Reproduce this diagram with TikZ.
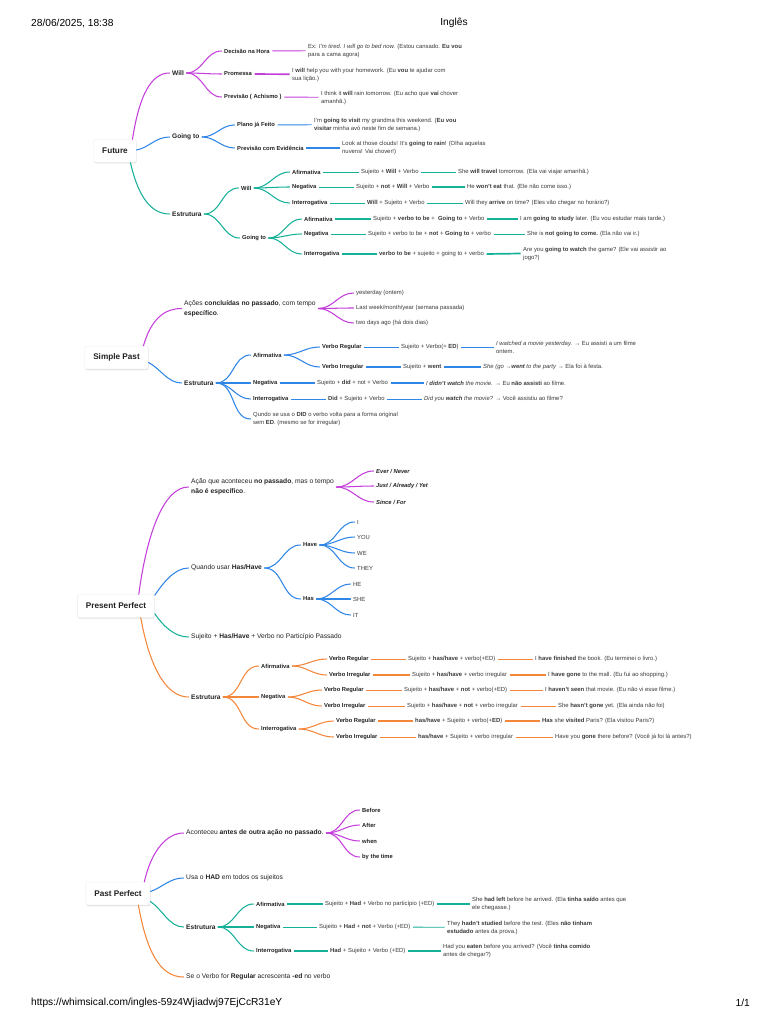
\documentclass[tikz,border=0pt]{standalone}
\usepackage{fontspec}
\setmainfont{Liberation Sans}
\usetikzlibrary{shadows}
\definecolor{cP}{HTML}{C43EDB}
\definecolor{cB}{HTML}{2F86E6}
\definecolor{cT}{HTML}{15B098}
\definecolor{cO}{HTML}{F4863A}
\definecolor{tx}{HTML}{222222}
\definecolor{tl}{HTML}{3A3A3A}
\tikzset{
 root/.style={draw=black!7, fill=white, rounded corners=1.5pt, font=\fontsize{8.2}{10}\selectfont\bfseries, text=tx, minimum height=23pt, inner xsep=8.5pt, drop shadow={shadow xshift=0.3pt, shadow yshift=-1pt, opacity=0.12, fill=black}},
 lv1/.style={anchor=west, inner xsep=2.5pt, inner ysep=1pt, xshift=-2.5pt, font=\fontsize{6.7}{9.5}\selectfont, text=tx, align=left},
 lv1b/.style={lv1, font=\fontsize{6.6}{9.5}\selectfont\bfseries},
 lb/.style={anchor=west, inner xsep=2.5pt, inner ysep=1pt, xshift=-2.5pt, font=\fontsize{5.8}{8}\selectfont\bfseries, text=tx},
 lbi/.style={lb, font=\fontsize{5.8}{8}\selectfont\bfseries\itshape},
 lf/.style={anchor=west, inner xsep=2.5pt, inner ysep=1pt, xshift=-2.5pt, font=\fontsize{5.9}{8}\selectfont, text=tl, align=left},
 hdr/.style={font=\fontsize{10.2}{12}\selectfont, text=black, inner sep=0pt},
 br/.style={line width=1.05pt, line cap=round},
 cn/.style={line width=0.9pt},
 ck/.style={line width=1.7pt},
}
\begin{document}
\begin{tikzpicture}[x=1pt,y=-1pt]
\useasboundingbox (0,0) rectangle (768,1024);
\fill[white] (0,0) rectangle (768,1024);

% header / footer
\node[hdr, anchor=west] (hdate) at (31,23) {28/06/2025, 18:38};
\node[hdr] (htitle) at (454,23) {Inglês};
\node[hdr, anchor=west] (furl) at (31,1003) {https://whimsical.com/ingles-59z4Wjiadwj97EjCcR31eY};
\node[hdr, anchor=east] (fpage) at (750,1003) {1/1};

%================ FUTURE =================
\node[root] (fut) at (115,151) {Future};
\node[lv1b] (fwill) at (172,73) {Will};
\node[lv1b] (fgo) at (172,137) {Going to};
\node[lv1b] (fest) at (172,214) {Estrutura};

\node[lb] (fdec) at (224,51) {Decisão na Hora};
\node[lf] (fdecx) at (308,50.5) {Ex: \textit{I'm tired. I will go to bed now.} (Estou cansado. \textbf{Eu vou}\\para a cama agora)};
\node[lb] (fpro) at (224,74) {Promessa};
\node[lf] (fprox) at (292,74.5) {I \textbf{will} help you with your homework. (Eu \textbf{vou} te ajudar com\\sua lição.)};
\node[lb] (fpre) at (224,97) {Previsão ( Achismo )};
\node[lf] (fprex) at (321,97.5) {I think it \textbf{will} rain tomorrow. (Eu acho que \textbf{vai} chover\\amanhã.)};
\node[lb] (fpla) at (237,125) {Plano já Feito};
\node[lf] (fplax) at (314,124.5) {I'm \textbf{going to visit} my grandma this weekend. (\textbf{Eu vou}\\\textbf{visitar} minha avó neste fim de semana.)};
\node[lb] (fpev) at (237,148) {Previsão com Evidência};
\node[lf] (fpevx) at (342,148) {Look at those clouds! It's \textbf{going to rain}! (Olha aquelas\\nuvens! Vai chover!)};

\node[lb] (fsw) at (241,188) {Will};
\node[lb] (fsg) at (242,238) {Going to};

\node[lb] (fwa) at (292,172) {Afirmativa};
\node[lf] (fwaf) at (361,172) {Sujeito + \textbf{Will} + Verbo};
\node[lf] (fwae) at (458,172) {She \textbf{will travel} tomorrow. (Ela vai viajar amanhã.)};
\node[lb] (fwn) at (292,187) {Negativa};
\node[lf] (fwnf) at (356,187) {Sujeito + \textbf{not} + \textbf{Will} + Verbo};
\node[lf] (fwne) at (467,187) {He \textbf{won't eat} that. (Ele não come isso.)};
\node[lb] (fwi) at (292,203) {Interrogativa};
\node[lf] (fwif) at (367,203) {\textbf{Will} + Sujeito + Verbo};
\node[lf] (fwie) at (465,203) {Will they \textbf{arrive} on time? (Eles vão chegar no horário?)};

\node[lb] (fga) at (304,219) {Afirmativa};
\node[lf] (fgaf) at (373,219) {Sujeito + \textbf{verbo to be} + \ \textbf{Going to} + Verbo};
\node[lf] (fgae) at (520,219) {I am \textbf{going to study} later. (Eu vou estudar mais tarde.)};
\node[lb] (fgn) at (304,234) {Negativa};
\node[lf] (fgnf) at (368,234) {Sujeito + verbo to be + \textbf{not} + \textbf{Going to} + verbo};
\node[lf] (fgne) at (527,234) {She is \textbf{not going to come.} (Ela não vai ir.)};
\node[lb] (fgi) at (304,254) {Interrogativa};
\node[lf] (fgif) at (379,254) {\textbf{verbo to be} + sujeito + going to + verbo};
\node[lf] (fgie) at (523,253.5) {Are you \textbf{going to watch} the game? (Ele vai assistir ao\\jogo?)};

\draw[br,cP] ([xshift=-4pt]fut.north east) .. controls +(7,-45) and +(-18,0) .. (fwill.west);
\draw[br,cB] ([yshift=1pt]fut.east) .. controls +(12,-2) and +(-14,0) .. (fgo.west);
\draw[br,cT] ([xshift=-6pt]fut.south east) .. controls +(8,35) and +(-18,0) .. (fest.west);
\foreach \c in {fdec,fpro,fpre} \draw[br,cP] (fwill.east) to[out=0,in=180] (\c.west);
\foreach \c in {fpla,fpev} \draw[br,cB] (fgo.east) to[out=0,in=180] (\c.west);
\foreach \c in {fsw,fsg} \draw[br,cT] (fest.east) to[out=0,in=180] (\c.west);
\foreach \c in {fwa,fwn,fwi} \draw[br,cT] (fsw.east) to[out=0,in=180] (\c.west);
\foreach \c in {fga,fgn,fgi} \draw[br,cT] (fsg.east) to[out=0,in=180] (\c.west);
\draw[cn,cP] (fdec) -- (fdecx);
\draw[ck,cP] (fpro) -- (fprox);
\draw[cn,cP] (fpre) -- (fprex);
\draw[cn,cB] (fpla) -- (fplax);
\draw[ck,cB] (fpev) -- (fpevx);
\draw[cn,cT] (fwa) -- (fwaf);  \draw[cn,cT] (fwaf) -- (fwae);
\draw[cn,cT] (fwn) -- (fwnf);  \draw[ck,cT] (fwnf) -- (fwne);
\draw[cn,cT] (fwi) -- (fwif);  \draw[cn,cT] (fwif) -- (fwie);
\draw[ck,cT] (fga) -- (fgaf);  \draw[ck,cT] (fgaf) -- (fgae);
\draw[cn,cT] (fgn) -- (fgnf);  \draw[cn,cT] (fgnf) -- (fgne);
\draw[ck,cT] (fgi) -- (fgif);  \draw[ck,cT] (fgif.east) -- (fgie.west);

%================ SIMPLE PAST =================
\node[root] (sp) at (116.5,357.5) {Simple Past};
\node[lv1] (spa) at (184,308.5) {Ações \textbf{concluídas no passado}, com tempo\\\textbf{específico}.};
\node[lf] (spy) at (356,293) {yesterday (ontem)};
\node[lf] (spl) at (356,308) {Last week/month/year (semana passada)};
\node[lf] (spt) at (356,323) {two days ago (há dois dias)};
\node[lv1b] (spe) at (184,383) {Estrutura};
\node[lb] (spaf) at (253,355) {Afirmativa};
\node[lb] (spng) at (253,383) {Negativa};
\node[lb] (spin) at (253,399) {Interrogativa};
\node[lf] (spq) at (253,419) {Qundo se usa o \textbf{DID} o verbo volta para a forma original\\sem \textbf{ED}. (mesmo se for irregular)};
\node[lb] (spvr) at (322,347) {Verbo Regular};
\node[lf] (spvrf) at (401,347) {Sujeito + Verbo(+ \textbf{ED})};
\node[lf] (spvre) at (496,347) {\textit{I watched a movie yesterday.} → Eu assisti a um filme\\ontem.};
\node[lb] (spvi) at (322,367) {Verbo Irregular};
\node[lf] (spvif) at (403,367) {Sujeito + \textbf{went}};
\node[lf] (spvie) at (483,367) {\textit{She (go →\textbf{went} to the party} → Ela foi à festa.};
\node[lf] (spngf) at (317,383) {Sujeito + \textbf{did} + not + Verbo};
\node[lf] (spnge) at (426,383) {\textit{I \textbf{didn't watch} the movie.} → Eu \textbf{não assisti} ao filme.};
\node[lf] (spinf) at (328,399) {\textbf{Did} + Sujeito + Verbo};
\node[lf] (spine) at (424,399) {\textit{Did you \textbf{watch} the movie?} → Você assistiu ao filme?};

\draw[br,cP] ([xshift=-5pt]sp.north east) .. controls +(8,-28) and +(-16,0) .. (spa.west);
\foreach \c in {spy,spl,spt} \draw[br,cP] (spa.east) to[out=0,in=180] (\c.west);
\draw[br,cB] ([yshift=-5pt]sp.east) .. controls +(12,6) and +(-14,0) .. (spe.west);
\foreach \c in {spaf,spng,spin,spq} \draw[br,cB] (spe.east) to[out=0,in=180] (\c.west);
\foreach \c in {spvr,spvi} \draw[br,cB] (spaf.east) to[out=0,in=180] (\c.west);
\draw[cn,cB] (spvr) -- (spvrf);  \draw[cn,cB] (spvrf) -- (spvre);
\draw[ck,cB] (spvi) -- (spvif);  \draw[ck,cB] (spvif) -- (spvie);
\draw[ck,cB] (spng) -- (spngf);  \draw[ck,cB] (spngf) -- (spnge);
\draw[cn,cB] (spin) -- (spinf);  \draw[cn,cB] (spinf) -- (spine);

%================ PRESENT PERFECT =================
\node[root] (pp) at (116,606) {Present Perfect};
\node[lv1] (ppa) at (191,487) {Ação que aconteceu \textbf{no passado}, mas o tempo\\\textbf{não é específico}.};
\node[lbi] (ppev) at (376,471) {Ever / Never};
\node[lbi] (ppju) at (376,486) {Just / Already / Yet};
\node[lbi] (ppsi) at (376,502) {Since / For};
\node[lv1] (ppq) at (191,568) {Quando usar \textbf{Has/Have}};
\node[lb] (pphv) at (303,545) {Have};
\node[lb] (pphs) at (303,599) {Has};
\node[lf] (ppi) at (357,522) {I};
\node[lf] (ppyou) at (357,537) {YOU};
\node[lf] (ppwe) at (357,553) {WE};
\node[lf] (ppthey) at (357,568) {THEY};
\node[lf] (pphe) at (353,584) {HE};
\node[lf] (ppshe) at (353,599) {SHE};
\node[lf] (ppit) at (353,615) {IT};
\node[lv1] (pps) at (191,637) {Sujeito + \textbf{Has/Have} + Verbo no Particípio Passado};
\node[lv1b] (ppe) at (191,697) {Estrutura};
\node[lb] (ppaf) at (261,666) {Afirmativa};
\node[lb] (ppng) at (261,697) {Negativa};
\node[lb] (ppin) at (261,729) {Interrogativa};

\node[lb] (ppar) at (329,659) {Verbo Regular};
\node[lf] (ppar1) at (408,659) {Sujeito + \textbf{has/have} + verbo(+ED)};
\node[lf] (ppar2) at (535,659) {I \textbf{have finished} the book. (Eu terminei o livro.)};
\node[lb] (ppai) at (329,675) {Verbo Irregular};
\node[lf] (ppai1) at (412,675) {Sujeito + \textbf{has/have} + verbo irregular};
\node[lf] (ppai2) at (548,675) {I \textbf{have gone} to the mall. (Eu fui ao shopping.)};
\node[lb] (ppnr) at (324,690) {Verbo Regular};
\node[lf] (ppnr1) at (404,690) {Sujeito + \textbf{has/have} + \textbf{not} + verbo(+ED)};
\node[lf] (ppnr2) at (545,690) {I \textbf{haven't seen} that movie. (Eu não vi esse filme.)};
\node[lb] (ppni) at (324,706) {Verbo Irregular};
\node[lf] (ppni1) at (407,706) {Sujeito + \textbf{has/have} + \textbf{not} + verbo irregular};
\node[lf] (ppni2) at (558,706) {She \textbf{hasn't gone} yet. (Ela ainda não foi)};
\node[lb] (ppir) at (336,721) {Verbo Regular};
\node[lf] (ppir1) at (415,721) {\textbf{has/have} + Sujeito + verbo(+\textbf{ED})};
\node[lf] (ppir2) at (542,721) {\textbf{Has} she \textbf{visited} Paris? (Ela visitou Paris?)};
\node[lb] (ppii) at (336,737) {Verbo Irregular};
\node[lf] (ppii1) at (418,737) {\textbf{has/have} + Sujeito + verbo irregular};
\node[lf] (ppii2) at (555,737) {Have you \textbf{gone} there before? (Você já foi lá antes?)};

\draw[br,cP] ([xshift=-16pt]pp.north east) .. controls +(8,-60) and +(-25,0) .. (ppa.west);
\foreach \c in {ppev,ppju,ppsi} \draw[br,cP] (ppa.east) to[out=0,in=180] (\c.west);
\draw[br,cB] ([yshift=-1pt]pp.north east) .. controls +(8,-12) and +(-14,0) .. (ppq.west);
\foreach \c in {pphv,pphs} \draw[br,cB] (ppq.east) to[out=0,in=180] (\c.west);
\foreach \c in {ppi,ppyou,ppwe,ppthey} \draw[br,cB] (pphv.east) to[out=0,in=180] (\c.west);
\foreach \c in {pphe,ppshe,ppit} \draw[br,cB] (pphs.east) to[out=0,in=180] (\c.west);
\draw[br,cT] ([yshift=4pt]pp.south east) .. controls +(8,12) and +(-14,0) .. (pps.west);
\draw[br,cO] ([xshift=-14pt]pp.south east) .. controls +(8,45) and +(-24,0) .. (ppe.west);
\foreach \c in {ppaf,ppng,ppin} \draw[br,cO] (ppe.east) to[out=0,in=180] (\c.west);
\foreach \c in {ppar,ppai} \draw[br,cO] (ppaf.east) to[out=0,in=180] (\c.west);
\foreach \c in {ppnr,ppni} \draw[br,cO] (ppng.east) to[out=0,in=180] (\c.west);
\foreach \c in {ppir,ppii} \draw[br,cO] (ppin.east) to[out=0,in=180] (\c.west);
\draw[cn,cO] (ppar) -- (ppar1);  \draw[cn,cO] (ppar1) -- (ppar2);
\draw[ck,cO] (ppai) -- (ppai1);  \draw[ck,cO] (ppai1) -- (ppai2);
\draw[cn,cO] (ppnr) -- (ppnr1);  \draw[cn,cO] (ppnr1) -- (ppnr2);
\draw[cn,cO] (ppni) -- (ppni1);  \draw[cn,cO] (ppni1) -- (ppni2);
\draw[ck,cO] (ppir) -- (ppir1);  \draw[ck,cO] (ppir1) -- (ppir2);
\draw[cn,cO] (ppii) -- (ppii1);  \draw[cn,cO] (ppii1) -- (ppii2);

%================ PAST PERFECT =================
\node[root] (pf) at (118,893.5) {Past Perfect};
\node[lv1] (pfa) at (186,833) {Aconteceu \textbf{antes de outra ação no passado}.};
\node[lb] (pfbe) at (362,810) {Before};
\node[lb] (pfafter) at (362,825) {After};
\node[lb] (pfwh) at (362,841) {when};
\node[lb] (pfby) at (362,857) {by the time};
\node[lv1] (pfh) at (186,878) {Usa o \textbf{HAD} em todos os sujeitos};
\node[lv1b] (pfe) at (186,927) {Estrutura};
\node[lb] (pfaf) at (256,904) {Afirmativa};
\node[lf] (pfaf1) at (325,904) {Sujeito + \textbf{Had} + Verbo no particípio (+ED)};
\node[lf] (pfaf2) at (472,904) {She \textbf{had left} before he arrived. (Ela \textbf{tinha saído} antes que\\ele chegasse.)};
\node[lb] (pfng) at (256,927) {Negativa};
\node[lf] (pfng1) at (319,927) {Sujeito + \textbf{Had} + \textbf{not} + Verbo (+ED)};
\node[lf] (pfng2) at (447,927.5) {They \textbf{hadn't studied} before the test. (Eles \textbf{não tinham}\\\textbf{estudado} antes da prova.)};
\node[lb] (pfin) at (256,951) {Interrogativa};
\node[lf] (pfin1) at (330,951) {\textbf{Had} + Sujeito + Verbo (+ED)};
\node[lf] (pfin2) at (443,951) {Had you \textbf{eaten} before you arrived? (Você \textbf{tinha comido}\\antes de chegar?)};
\node[lv1] (pfr) at (186,977) {Se o Verbo for \textbf{Regular} acrescenta \textbf{-ed} no verbo};

\draw[br,cP] ([xshift=-6pt]pf.north east) .. controls +(7,-32) and +(-16,0) .. (pfa.west);
\foreach \c in {pfbe,pfafter,pfwh,pfby} \draw[br,cP] (pfa.east) to[out=0,in=180] (\c.west);
\draw[br,cB] ([yshift=2pt]pf.east) .. controls +(12,-4) and +(-14,0) .. (pfh.west);
\draw[br,cT] ([yshift=-8pt]pf.east) .. controls +(12,8) and +(-14,0) .. (pfe.west);
\foreach \c in {pfaf,pfng,pfin} \draw[br,cT] (pfe.east) to[out=0,in=180] (\c.west);
\draw[ck,cT] (pfaf) -- (pfaf1);  \draw[ck,cT] (pfaf1) -- (pfaf2);
\draw[cn,cT] (pfng) -- (pfng1);  \draw[cn,cT] (pfng1) -- (pfng2);
\draw[ck,cT] (pfin) -- (pfin1);  \draw[ck,cT] (pfin1) -- (pfin2);
\draw[br,cO] ([xshift=-12pt]pf.south east) .. controls +(8,45) and +(-24,0) .. (pfr.west);
\end{tikzpicture}
\end{document}
